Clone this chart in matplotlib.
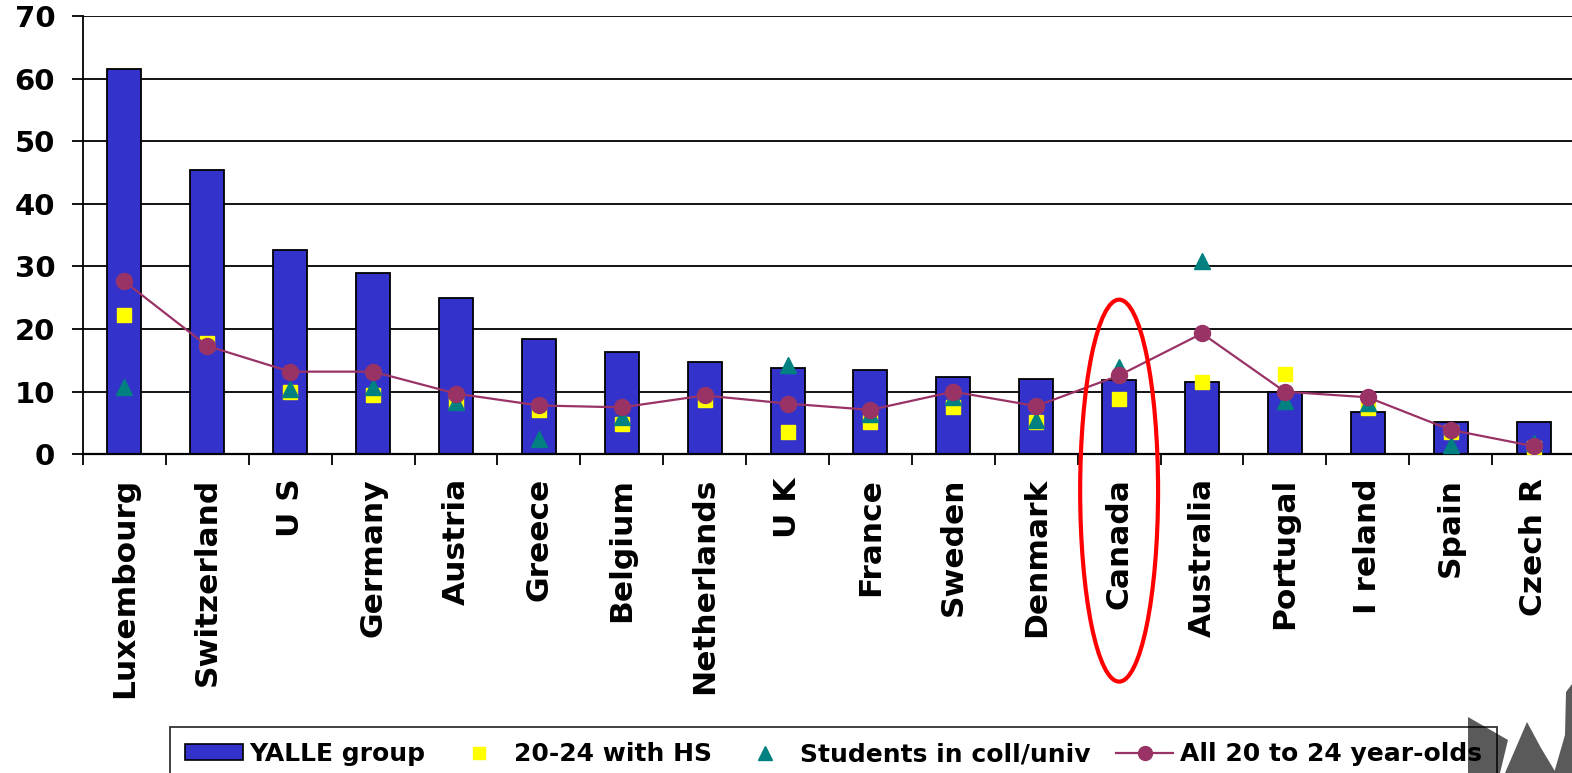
import numpy as np
import matplotlib.pyplot as plt
from matplotlib.patches import Ellipse, Patch, Polygon
from matplotlib.lines import Line2D

# ---- data ----
countries = ['Luxembourg', 'Switzerland', 'U S', 'Germany', 'Austria', 'Greece',
             'Belgium', 'Netherlands', 'U K', 'France', 'Sweden', 'Denmark',
             'Canada', 'Australia', 'Portugal', 'I reland', 'Spain', 'Czech R']
yalle = [61.5, 45.4, 32.7, 28.9, 25.0, 18.4, 16.3, 14.7, 13.8, 13.4, 12.4, 12.1,
         11.8, 11.5, 9.9, 6.7, 5.1, 5.1]
with_hs = [22.2, 17.7, 10.0, 9.4, 8.4, 7.1, 4.9, 8.7, 3.6, 5.1, 7.5, 5.2,
           8.8, 11.6, 12.9, 7.4, 3.6, 1.0]
students = [10.8, np.nan, 10.5, 10.7, 8.4, 2.5, 6.0, np.nan, 14.3, 6.5, 9.2, 5.4,
            14.0, 30.9, 8.5, 8.2, 1.5, 1.8]
all_20_24 = [27.6, 17.3, 13.2, 13.2, 9.7, 7.8, 7.5, 9.4, 8.1, 7.1, 10.0, 7.7,
             12.6, 19.3, 10.0, 9.1, 3.9, 1.3]
highlight = 'Canada'

bar_col = '#3333CC'
hs_col = '#FFFF00'
stu_col = '#008080'
line_col = '#993366'

fig = plt.figure(figsize=(15.72, 7.73), dpi=100)
ax = fig.add_axes([83 / 1572, 1 - 454.3 / 773, 1492 / 1572, 438.3 / 773])

x = np.arange(len(countries))
ax.bar(x, yalle, width=0.41, color=bar_col, edgecolor='black', linewidth=1.3, zorder=2)
ax.plot(x, with_hs, 's', color=hs_col, markersize=10.5, linestyle='none', zorder=3)
ax.plot(x, students, '^', color=stu_col, markersize=12, linestyle='none', zorder=4)
ax.plot(x, all_20_24, '-o', color=line_col, linewidth=1.6, markersize=11.5, zorder=5)

ax.set_xlim(-0.5, len(countries) - 0.5)
ax.set_ylim(0, 70)
ax.set_yticks(range(0, 71, 10))
ax.yaxis.grid(True, color='black', linewidth=1.3, zorder=0)
ax.set_axisbelow(True)

ax.set_xticks(x)
ax.set_xticklabels(countries, rotation=90, fontsize=22.5, fontweight='bold')
ax.set_xticks(np.arange(-0.5, len(countries), 1), minor=True)
ax.tick_params(axis='x', which='major', length=0, pad=17)
ax.tick_params(axis='x', which='minor', length=8, width=1.3, direction='out')
ax.tick_params(axis='y', length=8, width=1.3, direction='out', pad=12)
for lab in ax.get_yticklabels():
    lab.set_fontsize(21)
    lab.set_fontweight('bold')

for side in ['top', 'right']:
    ax.spines[side].set_visible(False)
ax.spines['left'].set_linewidth(1.3)
ax.spines['bottom'].set_linewidth(1.6)

# red ring round Canada
ci = countries.index(highlight)
ring = Ellipse((ci, -5.8), width=0.94, height=61, fill=False, edgecolor='red',
               linewidth=3, clip_on=False, zorder=6)
ax.add_patch(ring)

# grey leaf in the bottom corner
leaf_parts = [
    [(1468, 717), (1508, 740), (1500, 773), (1468, 773)],
    [(1505, 773), (1527, 722), (1541, 748), (1556, 773)],
    [(1554, 773), (1565, 735), (1566, 692), (1572, 684), (1572, 773)],
]
for pts in leaf_parts:
    fig.patches.append(Polygon([(px / 1572, 1 - py / 773) for px, py in pts],
                               closed=True, transform=fig.transFigure,
                               facecolor='#5a5a5a', edgecolor='none', zorder=0))

handles = [
    Patch(facecolor=bar_col, edgecolor='black', linewidth=1.2),
    Line2D([], [], marker='s', color=hs_col, linestyle='none', markersize=8.5),
    Line2D([], [], marker='^', color=stu_col, linestyle='none', markersize=10),
    Line2D([], [], marker='o', color=line_col, linewidth=1.6, markersize=10),
]
labels = ['YALLE group', '20-24 with HS', 'Students in coll/univ', 'All 20 to 24 year-olds']
leg = fig.legend(handles, labels, loc='upper left', bbox_to_anchor=(170 / 1572, 1 - 727 / 773),
                 ncol=4, frameon=True, fancybox=False, edgecolor='black', facecolor='none',
                 prop={'size': 18, 'weight': 'bold'},
                 handlelength=2.3, handleheight=0.6, handletextpad=0.25, columnspacing=1.0,
                 borderpad=0.6, borderaxespad=0)
leg.get_frame().set_linewidth(1.3)

fig.savefig('out.png', dpi=100)
